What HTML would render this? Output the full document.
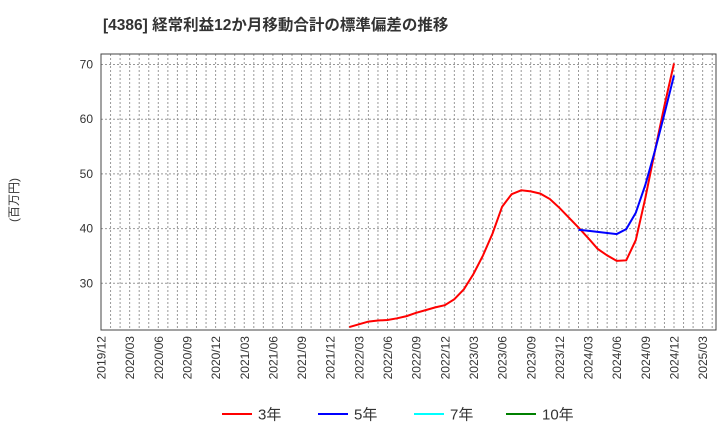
<!DOCTYPE html>
<html><head><meta charset="utf-8"><style>
body{margin:0;background:#fff;font-family:"Liberation Sans","Noto Sans CJK JP",sans-serif;}
</style></head><body>
<svg id="c" width="720" height="440" xmlns="http://www.w3.org/2000/svg" font-family="Liberation Sans, Noto Sans CJK JP, sans-serif">
<text x="103" y="30" font-size="15.5" font-weight="bold" fill="#333">[4386]  経常利益12か月移動合計の標準偏差の推移</text>
<text transform="translate(18,200) rotate(-90)" font-size="12" fill="#333" text-anchor="middle">(百万円)</text>
<g id="grid"></g><g id="axes"></g><g id="series"></g><g id="legend"></g>
</svg>
<script>
const xLabels=["2019/12","2020/03","2020/06","2020/09","2020/12","2021/03","2021/06","2021/09","2021/12","2022/03","2022/06","2022/09","2022/12","2023/03","2023/06","2023/09","2023/12","2024/03","2024/06","2024/09","2024/12","2025/03"];
const yTicks=[30,40,50,60,70];
const red3Start=26; // month index from 2019/12
const red3=[22.0,22.5,23.0,23.2,23.3,23.6,24.0,24.6,25.1,25.6,26.0,27.1,28.9,31.7,35.1,39.1,44.0,46.3,47.0,46.8,46.4,45.4,43.8,42.0,40.2,38.3,36.3,35.1,34.1,34.2,37.9,45.6,54.2,62.5,70.2];
const blue5Start=50;
const blue5=[39.8,39.6,39.4,39.2,39.0,39.9,42.9,48.0,54.2,61.0,68.0];
const NS="http://www.w3.org/2000/svg";
const L=101,R=716,T=54,B=330;
const X=m=>101+m*9.55;
const Y=v=>64.5+(70-v)*5.47;
function mk(tag,attrs,parent){const e=document.createElementNS(NS,tag);for(const k in attrs)e.setAttribute(k,attrs[k]);parent.appendChild(e);return e;}
const grid=document.getElementById('grid'),axes=document.getElementById('axes'),ser=document.getElementById('series'),leg=document.getElementById('legend');
for(let m=1;m<=64;m++){const x=X(m);if(x>=R)break;
 const l=mk('line',{x1:x,x2:x,y1:T,y2:B,stroke:'#999','stroke-dasharray':'2,2','stroke-width':1},grid);
 
 }
yTicks.forEach(v=>{const y=Y(v);
 const l=mk('line',{x1:L,x2:R,y1:y,y2:y,stroke:'#999','stroke-dasharray':'2,2'},grid);
 
 
 const t=mk('text',{x:L-8,y:y+4,'font-size':12,fill:'#333','text-anchor':'end'},axes);t.textContent=v;
 
 });
xLabels.forEach((s,i)=>{const x=X(i*3);
 const t=mk('text',{transform:`translate(${x+4.5},${B+6}) rotate(-90)`,'font-size':12,fill:'#333','text-anchor':'end'},axes);t.textContent=s;
 
 });
const fr=mk('rect',{x:L,y:T,width:R-L,height:B-T,fill:'none',stroke:'#444','stroke-width':1},axes);


function line(arr,start,color,name){const p=mk('polyline',{points:arr.map((v,i)=>X(start+i)+','+Y(v)).join(' '),fill:'none',stroke:color,'stroke-width':2},ser);
 
 }
line(red3,red3Start,'#ff0000','series-3y');
line(blue5,blue5Start,'#0000ff','series-5y');
[["3年","#ff0000",222],["5年","#0000ff",318],["7年","#00ffff",414],["10年","#008000",506]].forEach(([n,c,x])=>{
 const g=mk('g',{},leg);
 
 
 mk('line',{x1:x,x2:x+30,y1:414,y2:414,stroke:c,'stroke-width':2},g);
 const t=mk('text',{x:x+36,y:419.5,'font-size':15,fill:'#333'},g);t.textContent=n;});
</script>
</body></html>
